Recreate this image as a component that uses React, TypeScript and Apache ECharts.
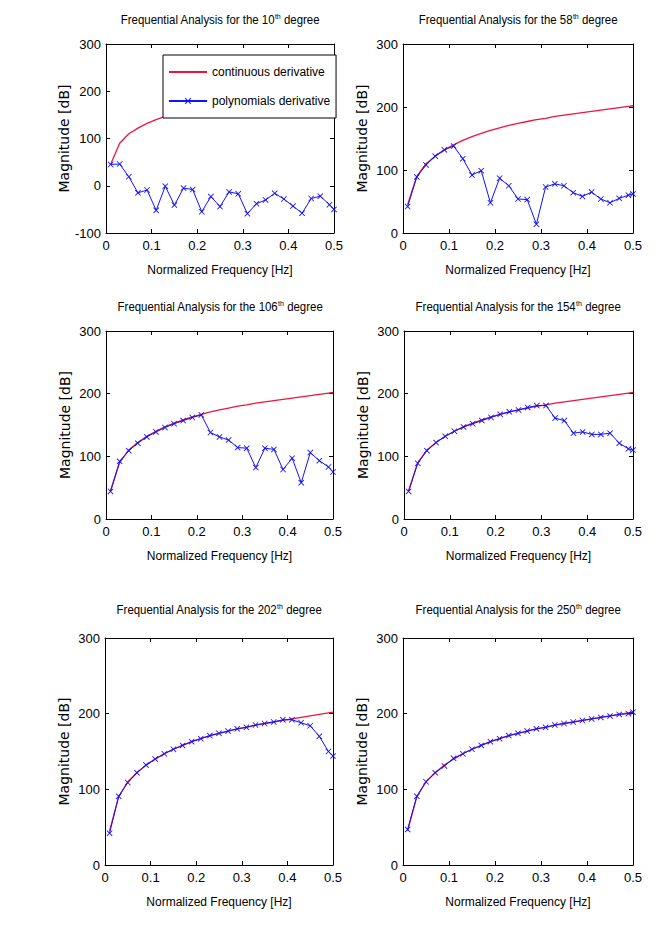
import React, { useEffect, useRef } from "react";
import * as echarts from "echarts";

// Normalized frequency samples [Hz]
const freq = [0.01, 0.03, 0.05, 0.07, 0.09, 0.11, 0.13, 0.15, 0.17, 0.19, 0.21, 0.23, 0.25, 0.27, 0.29, 0.31, 0.33, 0.35, 0.37, 0.39, 0.41, 0.43, 0.45, 0.47, 0.49, 0.5];

// Continuous derivative magnitude [dB]
const continuousDerivative = [45, 90, 110, 122, 132, 140, 147, 153, 158, 163, 167, 171, 174, 177, 180, 182, 185, 187, 189, 191, 193, 195, 197, 199, 201, 202];

// Polynomial derivative magnitude [dB] for each degree
const poly10 = [45, 46, 19, -15, -9, -52, -1, -41, -5, -8, -55, -23, -44, -13, -17, -59, -38, -30, -16, -28, -43, -58, -27, -22, -40, -50];
const poly58 = [42, 89, 108, 122, 132, 138, 118, 92, 99, 48, 87, 75, 54, 53, 14, 73, 78, 75, 64, 58, 65, 54, 48, 55, 60, 62];
const poly106 = [44, 92, 109, 121, 131, 139, 146, 152, 157, 162, 166, 138, 131, 126, 114, 113, 82, 113, 111, 79, 97, 58, 106, 93, 83, 75];
const poly154 = [44, 89, 109, 122, 132, 140, 147, 152, 157, 162, 167, 171, 174, 178, 181, 181, 161, 157, 137, 139, 135, 135, 137, 121, 112, 110];
const poly202 = [42, 91, 109, 122, 132, 140, 147, 153, 158, 163, 167, 171, 174, 177, 180, 182, 185, 187, 189, 192, 192, 188, 184, 170, 150, 144];
const poly250 = [47, 91, 110, 122, 131, 141, 147, 153, 158, 163, 167, 171, 174, 177, 180, 182, 185, 187, 189, 191, 193, 195, 197, 199, 200, 202];

const degrees = ["10", "58", "106", "154", "202", "250"];
const polySeries = [poly10, poly58, poly106, poly154, poly202, poly250];
const yMins = [-100, 0, 0, 0, 0, 0];
const yMax = 300;
const yStep = 100;
const xMin = 0;
const xMax = 0.5;
const xStep = 0.1;

const FONT = '"Liberation Sans", Arial, sans-serif';
const RED = "#f0143c";
const BLUE = "#1010ff";
const XMARK = "path://M0,1 L1,0 L5,4 L9,0 L10,1 L6,5 L10,9 L9,10 L5,6 L1,10 L0,9 L4,5 Z";

const grids = [
  { left: 106, top: 44, width: 228, height: 189, tx: 220, ty: 20 },
  { left: 403, top: 44, width: 230, height: 189, tx: 518, ty: 20 },
  { left: 106, top: 331, width: 227, height: 188, tx: 220, ty: 307 },
  { left: 404, top: 331, width: 229, height: 188, tx: 518, ty: 307 },
  { left: 105, top: 638, width: 228, height: 227, tx: 219, ty: 610 },
  { left: 403, top: 638, width: 230, height: 227, tx: 518, ty: 610 },
];

export default function App() {
  const ref = useRef<HTMLDivElement>(null);
  useEffect(() => {
    if (!ref.current) return;
    const chart = echarts.init(ref.current, undefined, { renderer: "svg" });
    const axisLine = { show: true, onZero: false, lineStyle: { color: "#000", width: 1 } };
    const axisTick = { show: true, inside: true, length: 4, lineStyle: { color: "#000" } };
    const xAxes: any[] = [];
    const yAxes: any[] = [];
    const series: any[] = [];
    const graphics: any[] = [];
    grids.forEach((g, i) => {
      xAxes[i] = {
        gridIndex: i, type: "value", min: xMin, max: xMax, interval: xStep, position: "bottom",
        axisLine, axisTick, splitLine: { show: false },
        axisLabel: { color: "#000", fontSize: 13, fontFamily: FONT, margin: 6 },
        name: "Normalized Frequency [Hz]", nameLocation: "middle", nameGap: 31,
        nameTextStyle: { color: "#000", fontSize: 12, fontFamily: FONT },
      };
      xAxes[i + 6] = {
        gridIndex: i, type: "value", min: xMin, max: xMax, interval: xStep, position: "top",
        axisLine, axisTick, splitLine: { show: false }, axisLabel: { show: false },
      };
      yAxes[i] = {
        gridIndex: i, type: "value", min: yMins[i], max: yMax, interval: yStep, position: "left",
        axisLine, axisTick, splitLine: { show: false },
        axisLabel: { color: "#000", fontSize: 13, fontFamily: FONT, margin: 5 },
        name: "Magnitude [dB]", nameLocation: "middle", nameGap: 34,
        nameTextStyle: { color: "#000", fontSize: 14, fontFamily: '"DejaVu Sans", sans-serif' },
      };
      yAxes[i + 6] = {
        gridIndex: i, type: "value", min: yMins[i], max: yMax, interval: yStep, position: "right",
        axisLine, axisTick, splitLine: { show: false }, axisLabel: { show: false },
      };
      series.push({
        type: "line", name: "continuous derivative", xAxisIndex: i, yAxisIndex: i,
        data: freq.map((f, j) => [f, continuousDerivative[j]]),
        symbol: "none", lineStyle: { color: RED, width: 1.3 }, itemStyle: { color: RED }, z: 2,
      });
      series.push({
        type: "line", name: "polynomials derivative", xAxisIndex: i, yAxisIndex: i,
        data: freq.map((f, j) => [f, polySeries[i][j]]),
        symbol: XMARK, symbolSize: 6, showSymbol: true,
        lineStyle: { color: BLUE, width: 1 }, itemStyle: { color: BLUE }, z: 3,
      });
      graphics.push({
        type: "text", x: g.tx, y: g.ty, scaleX: 0.88,
        style: {
          text: `Frequential Analysis for the ${degrees[i]}{sup|th} degree`,
          align: "center", verticalAlign: "middle",
          fontSize: 13, fontFamily: FONT, fill: "#000",
          rich: { sup: { fontSize: 8, verticalAlign: "bottom", padding: [0, 0, 8, 0], fontFamily: FONT, fill: "#000" } },
        },
      });
    });
    chart.setOption({
      animation: false,
      backgroundColor: "#fff",
      grid: grids.map((g) => ({ left: g.left, top: g.top, width: g.width, height: g.height, containLabel: false })),
      xAxis: xAxes,
      yAxis: yAxes,
      series,
      legend: {
        show: true, left: 163, top: 55, orient: "vertical", selectedMode: false,
        data: [
          { name: "continuous derivative", itemStyle: { opacity: 0 } },
          { name: "polynomials derivative" },
        ],
        backgroundColor: "#fff", borderColor: "#000", borderWidth: 1,
        padding: [11, 6, 11, 5], itemWidth: 38, itemHeight: 8, itemGap: 17,
        textStyle: { fontSize: 12, fontFamily: FONT, color: "#000" },
        z: 10,
      },
      graphic: graphics,
    });
    return () => chart.dispose();
  }, []);
  return (
    <div
      ref={ref}
      style={{ position: "absolute", left: 0, top: 0, width: 671, height: 935, background: "#fff" }}
    />
  );
}
